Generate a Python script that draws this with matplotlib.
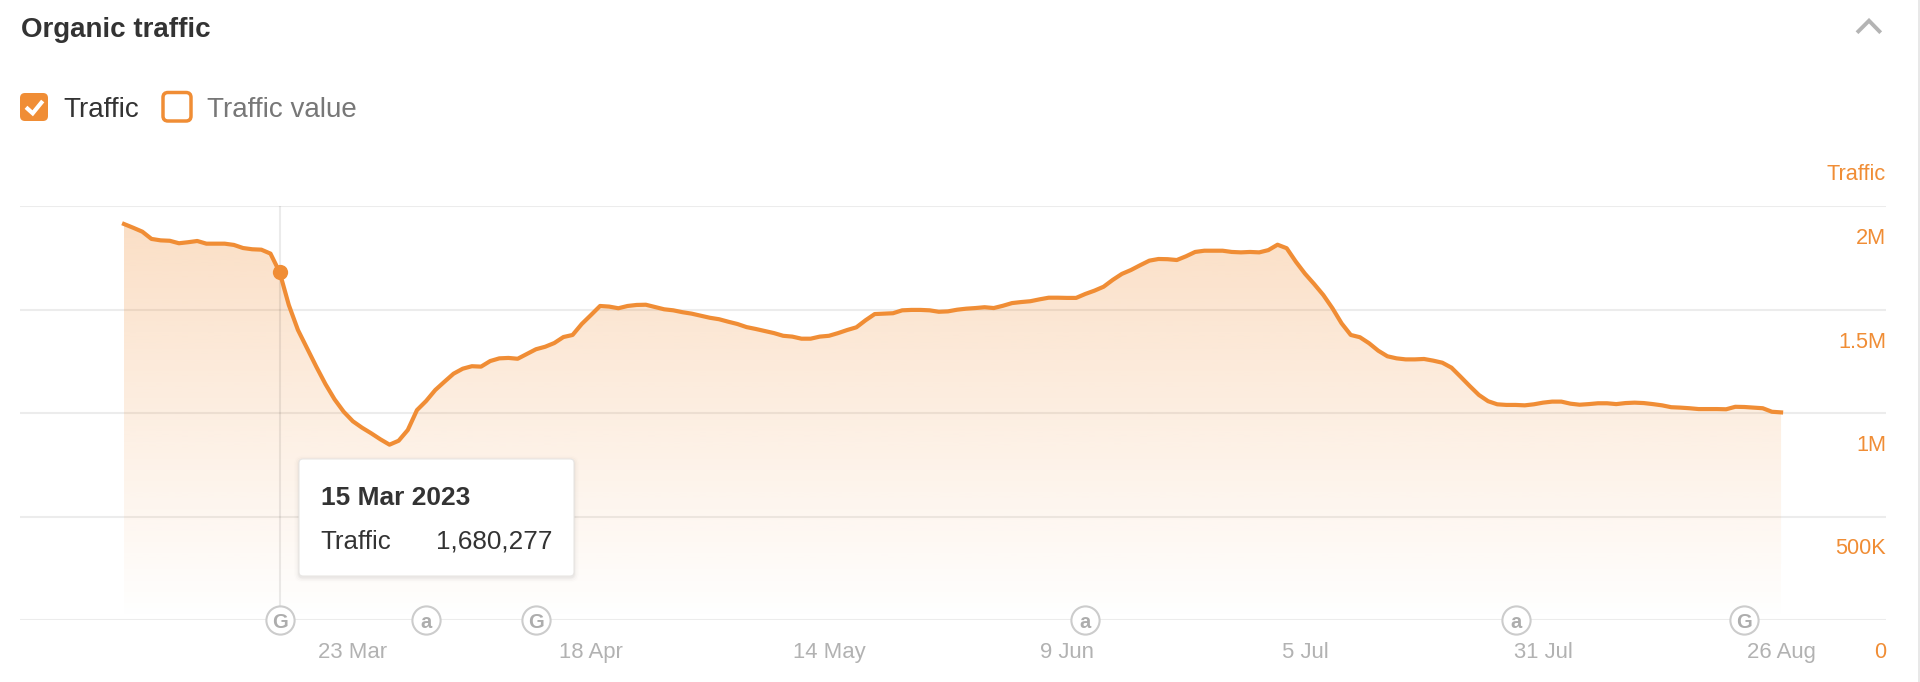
import numpy as np
import pandas as pd
import matplotlib
matplotlib.use("Agg")
import matplotlib.pyplot as plt
import matplotlib.dates as mdates
from matplotlib.patches import FancyBboxPatch, PathPatch
from matplotlib.transforms import ScaledTranslation

plt.rcParams['font.family'] = ['Liberation Sans', 'DejaVu Sans']

# ---- data ----------------------------------------------------------------
start_date = '2023-02-26'
traffic_k = [
    1913, 1895, 1876, 1841, 1834, 1832, 1820, 1825, 1831, 1818,
    1818, 1818, 1812, 1797, 1791, 1789, 1770, 1680.277, 1522, 1401,
    1313, 1224, 1140, 1066, 1006, 960, 929, 902, 873, 847,
    866, 918, 1014, 1058, 1111, 1151, 1190, 1214, 1226, 1224,
    1251, 1264, 1266, 1262, 1285, 1308, 1320, 1338, 1367, 1377,
    1430, 1473, 1517, 1514, 1506, 1517, 1522, 1523, 1512, 1501,
    1496, 1487, 1480, 1470, 1460, 1453, 1441, 1430, 1415, 1406,
    1396, 1386, 1373, 1369, 1359, 1359, 1369, 1373, 1386, 1401,
    1414, 1448, 1478, 1480, 1482, 1496, 1498, 1498, 1496, 1489,
    1491, 1499, 1504, 1507, 1511, 1507, 1518, 1531, 1536, 1540,
    1549, 1557, 1557, 1556, 1556, 1575, 1591, 1610, 1643, 1672,
    1691, 1714, 1736, 1744, 1743, 1739, 1757, 1778, 1784, 1784,
    1784, 1778, 1776, 1778, 1776, 1787, 1813, 1796, 1731, 1673,
    1623, 1570, 1506, 1433, 1377, 1366, 1337, 1301, 1274, 1264,
    1259, 1259, 1261, 1253, 1243, 1219, 1175, 1130, 1087, 1057,
    1042, 1039, 1039, 1037, 1042, 1050, 1055, 1055, 1045, 1040,
    1043, 1047, 1047, 1043, 1048, 1050, 1048, 1043, 1037, 1028,
    1026, 1023, 1019, 1019, 1019, 1018, 1030, 1029, 1026, 1023,
    1006, 1003,
]
y_ticks = [0, 500000, 1000000, 1500000, 2000000]
y_tick_labels = ['0', '500K', '1M', '1.5M', '2M']
x_tick_dates = ['2023-03-23', '2023-04-18', '2023-05-14', '2023-06-09',
                '2023-07-05', '2023-07-31', '2023-08-26']
x_tick_labels = ['23 Mar', '18 Apr', '14 May', '9 Jun', '5 Jul', '31 Jul', '26 Aug']
event_dates = ['2023-03-15', '2023-03-31', '2023-04-12', '2023-06-11',
               '2023-07-28', '2023-08-22']
event_labels = ['G', 'a', 'G', 'a', 'a', 'G']
highlight_date = '2023-03-15'
highlight_value = 1680277

# ---- styles ---------------------------------------------------------------
ORANGE = '#f08d35'
W, H = 1920, 682
fig = plt.figure(figsize=(W / 100, H / 100), dpi=100, facecolor='white')

dates = mdates.date2num(pd.date_range(start_date, periods=len(traffic_k)))
values = np.array(traffic_k) * 1000.0

# plot area in pixels: x 20..1886, y 206..620
ax = fig.add_axes([20 / W, 1 - 620 / H, 1866 / W, 414 / H])
ax.set_facecolor('none')
for s in ax.spines.values():
    s.set_visible(False)

px_per_day = 9.155
x0 = dates[0] - (124 - 20) / px_per_day
x1 = dates[0] + (1886 - 124) / px_per_day

# gradient fill clipped to the area under the curve
rgba = np.zeros((256, 1, 4))
rgba[..., 0] = 240 / 255
rgba[..., 1] = 140 / 255
rgba[..., 2] = 50 / 255
rgba[:, 0, 3] = np.linspace(0.28, 0.0, 256)
im = ax.imshow(rgba, extent=(dates[0], dates[-1], 0, values.max()), origin='upper',
               aspect='auto', interpolation='bilinear', zorder=2)
poly = ax.fill_between(dates, values, 0, facecolor='none', edgecolor='none')
im.set_clip_path(PathPatch(poly.get_paths()[0], transform=ax.transData))

ax.plot(dates, values, color=ORANGE, lw=3.0, solid_joinstyle='round', zorder=4)

hd = mdates.date2num(pd.Timestamp(highlight_date))
ax.axvline(hd, color=(0, 0, 0, 0.08), lw=1.5, zorder=3)
ax.plot([hd], [highlight_value], 'o', ms=11, mfc=ORANGE, mec='none', zorder=5)

ax.set_xlim(x0, x1)
ax.set_ylim(0, 2000000)

ax.set_yticks(y_ticks)
ax.set_yticklabels(y_tick_labels)
ax.yaxis.tick_right()
ax.tick_params(axis='y', length=0, pad=0, labelsize=15.7, labelcolor=ORANGE)
ax.yaxis.grid(True, color='#ececec', lw=1.5, zorder=1)
ax.set_axisbelow(True)
offset = ScaledTranslation(0, -38 / 100, fig.dpi_scale_trans)
for tick in ax.yaxis.get_major_ticks():
    tick.label2.set_ha('right')
    tick.label2.set_va('baseline')
    tick.label2.set_transform(tick.label2.get_transform() + offset)

ax.set_xticks(mdates.date2num(pd.to_datetime(x_tick_dates)))
ax.set_xticklabels(x_tick_labels)
ax.tick_params(axis='x', length=0, pad=27.4, labelsize=15.9, labelcolor='#b2b2b2')
for t in ax.get_xticklabels():
    t.set_va('baseline')

# event badges on the baseline
event_x = mdates.date2num(pd.to_datetime(event_dates))
for ex, lab in zip(event_x, event_labels):
    ax.plot([ex], [0], 'o', ms=20.3, mfc='white', mec='#cccccc', mew=1.5,
            clip_on=False, zorder=6)
    ax.text(ex, 0, lab, ha='center', va='center_baseline', fontsize=14.5,
            fontweight='bold', color='#adadad', zorder=7, clip_on=False)

# overlay in pixel coordinates for the page furniture
ui = fig.add_axes([0, 0, 1, 1], zorder=10)
ui.set_xlim(0, W)
ui.set_ylim(H, 0)
ui.axis('off')
ui.patch.set_alpha(0)

ui.text(21, 37, 'Organic traffic', fontsize=20, fontweight='bold', color='#333333', va='baseline')
ui.text(63, 116.7, 'Traffic', fontsize=20, color='#333333', va='baseline')
ui.text(207, 116.7, 'Traffic value', fontsize=20, color='#777777', va='baseline')
ui.text(1886, 180, 'Traffic', fontsize=15.7, color=ORANGE, ha='right', va='baseline')

# check boxes
ui.add_patch(FancyBboxPatch((25, 98), 18, 18, boxstyle='round,pad=5,rounding_size=5',
                            fc=ORANGE, ec='none'))
ui.plot([26, 32.7, 42.7], [107.3, 113.3, 101], color='white', lw=3, solid_capstyle='butt',
        solid_joinstyle='miter')
ui.add_patch(FancyBboxPatch((168, 97.5), 18, 18.5, boxstyle='round,pad=5,rounding_size=5',
                            fc='white', ec=ORANGE, lw=2.5))

# collapse chevron
ui.plot([1857, 1869, 1880.7], [32.7, 20.7, 32.7], color='#b4b4b4', lw=2.8,
        solid_capstyle='butt', solid_joinstyle='miter')

# right page edge
ui.axvspan(1918, 1920, color='#e8e8e8', lw=0)

# tooltip
for grow, a in [(5, 0.008), (3.5, 0.014), (2, 0.02), (1, 0.03)]:
    ui.add_patch(FancyBboxPatch((303, 463 + 1.5), 267, 109, boxstyle=f'round,pad={4 + grow},rounding_size={4 + grow}',
                                fc=(0, 0, 0, a), ec='none'))
ui.add_patch(FancyBboxPatch((303, 463), 267, 109, boxstyle='round,pad=4,rounding_size=4',
                            fc='white', ec='#e8e6e4', lw=0.8))
ui.text(321, 505, '15 Mar 2023', fontsize=19, fontweight='bold', color='#333333', va='baseline')
ui.text(320, 549, 'Traffic', fontsize=18.6, color='#333333', va='baseline')
ui.text(552, 549, '1,680,277', fontsize=18.8, color='#333333', ha='right', va='baseline')

fig.savefig('out.png', dpi=100, facecolor='white')
